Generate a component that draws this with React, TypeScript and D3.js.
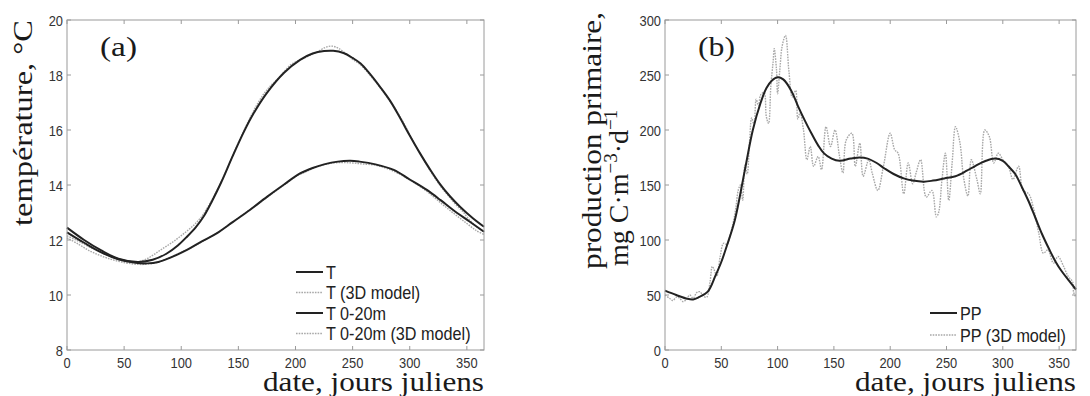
import React from 'react';
import * as d3 from 'd3';

// ---------- Panel (a): temperature ----------
const tempT: [number, number][] = [
  [0, 12.45], [15, 12.0], [30, 11.62], [45, 11.32], [62, 11.2], [75, 11.28], [87, 11.5],
  [97, 11.8], [105, 12.12], [113, 12.48], [120, 12.88], [127, 13.42], [135, 14.1], [145, 15.05],
  [155, 15.95], [163, 16.58], [175, 17.35], [190, 18.08], [204, 18.55], [215, 18.78], [225, 18.87],
  [233, 18.88], [242, 18.8], [250, 18.62], [257, 18.42], [265, 18.05], [274, 17.57], [283, 17.05],
  [291, 16.48], [300, 15.8], [309, 15.15], [318, 14.55], [326, 14.06], [335, 13.6], [344, 13.21],
  [355, 12.8], [365, 12.48],
];
const tempT3D: [number, number][] = [
  [0, 12.15], [8, 12.0], [15, 11.85], [22, 11.7], [30, 11.55], [38, 11.4], [45, 11.28], [52, 11.2],
  [58, 11.18], [64, 11.22], [70, 11.32], [76, 11.47], [82, 11.64], [88, 11.8], [94, 11.97],
  [100, 12.16], [106, 12.36], [112, 12.58], [118, 12.86], [124, 13.25], [130, 13.7], [136, 14.2],
  [142, 14.78], [148, 15.35], [154, 15.9], [160, 16.42], [166, 16.9], [172, 17.3], [178, 17.6],
  [184, 17.84], [190, 18.12], [196, 18.38], [202, 18.52], [208, 18.62], [214, 18.74], [220, 18.86],
  [226, 19.0], [232, 19.05], [238, 18.96], [244, 18.78], [250, 18.57], [256, 18.4], [262, 18.15],
  [268, 17.85], [274, 17.55], [280, 17.2], [286, 16.85], [292, 16.45], [298, 16.0], [304, 15.5],
  [310, 15.1], [316, 14.65], [322, 14.25], [328, 13.9], [334, 13.6], [340, 13.3], [346, 13.05],
  [352, 12.75], [358, 12.5], [365, 12.3],
];
const temp020: [number, number][] = [
  [0, 12.28], [15, 11.9], [30, 11.55], [45, 11.3], [60, 11.17], [70, 11.15], [80, 11.2],
  [90, 11.35], [105, 11.64], [118, 11.95], [131, 12.24], [145, 12.65], [160, 13.09], [175, 13.57],
  [190, 14.02], [204, 14.42], [215, 14.62], [225, 14.75], [237, 14.85], [248, 14.88], [256, 14.85],
  [270, 14.75], [286, 14.55], [300, 14.2], [315, 13.82], [327, 13.45], [338, 13.09], [352, 12.68],
  [365, 12.3],
];
const temp0203D: [number, number][] = [
  [0, 12.08], [10, 11.85], [20, 11.6], [30, 11.42], [40, 11.28], [50, 11.18], [60, 11.12],
  [70, 11.12], [80, 11.2], [90, 11.37], [100, 11.55], [110, 11.75], [120, 11.98], [130, 12.22],
  [140, 12.5], [150, 12.8], [160, 13.1], [170, 13.4], [180, 13.7], [190, 14.0], [200, 14.3],
  [210, 14.5], [220, 14.68], [230, 14.78], [240, 14.82], [250, 14.8], [260, 14.76], [270, 14.72],
  [280, 14.6], [290, 14.42], [300, 14.18], [310, 13.92], [320, 13.6], [330, 13.25], [340, 12.92],
  [350, 12.6], [358, 12.35], [365, 12.2],
];

// ---------- Panel (b): primary production ----------
const ppSmooth: [number, number][] = [
  [0, 54], [10, 50], [20, 46.5], [25, 46], [30, 48], [38, 53], [45, 68], [50, 80], [55, 95],
  [62, 118], [71, 164], [78, 200], [85, 225], [90, 238], [95, 245], [100, 248], [105, 246],
  [112, 236], [118, 222], [124, 209], [130, 197], [136, 186], [141, 179], [148, 174], [155, 172],
  [165, 174], [173, 175], [180, 174], [188, 170], [195, 165], [203, 160], [212, 156], [220, 154],
  [230, 153], [238, 154], [248, 156], [258, 158], [268, 163], [275, 167], [285, 172], [293, 174],
  [300, 172], [305, 167], [311, 160], [317, 148], [323, 135], [329, 120], [335, 105], [341, 92],
  [347, 80], [352, 72], [358, 64], [365, 55],
];
const pp3D: [number, number][] = [
  [0, 50], [4, 47], [7, 45], [10, 48], [13, 47], [16, 44], [19, 46], [22, 50], [25, 47], [28, 52],
  [31, 53], [34, 49], [37, 48], [40, 62], [42, 76], [44, 72], [46, 67], [49, 85], [52, 97],
  [55, 96], [58, 105], [61, 118], [63, 130], [65, 145], [67, 150], [69, 136], [71, 168], [73, 160],
  [75, 188], [77, 211], [79, 205], [81, 228], [83, 222], [85, 232], [88, 234], [90, 212], [92, 206],
  [94, 240], [96, 262], [97, 274], [99, 255], [100, 233], [102, 255], [104, 276], [107, 286],
  [110, 254], [113, 230], [116, 236], [118, 210], [120, 216], [123, 200], [126, 173], [129, 185],
  [132, 167], [136, 176], [139, 164], [143, 203], [147, 185], [151, 200], [155, 176], [158, 161],
  [161, 191], [166, 197], [169, 167], [173, 188], [176, 158], [181, 173], [184, 161], [189, 145],
  [194, 167], [200, 197], [204, 182], [207, 179], [212, 142], [216, 170], [220, 151], [223, 161],
  [227, 173], [232, 139], [237, 145], [241, 121], [243, 125], [246, 155], [249, 179], [252, 136],
  [255, 170], [258, 203], [262, 188], [265, 158], [269, 140], [272, 173], [277, 155], [280, 142],
  [284, 200], [288, 194], [292, 170], [296, 179], [300, 173], [305, 167], [309, 155], [314, 167],
  [318, 145], [323, 142], [327, 130], [332, 106], [336, 88], [340, 91], [345, 79], [349, 85],
  [354, 76], [358, 67], [362, 62], [363, 52], [365, 48],
];

const xTicks = [0, 50, 100, 150, 200, 250, 300, 350];
const yTicksA = [8, 10, 12, 14, 16, 18, 20];
const yTicksB = [0, 50, 100, 150, 200, 250, 300];
const legendA = ['T', 'T (3D model)', 'T 0-20m', 'T 0-20m (3D model)'];
const legendB = ['PP', 'PP (3D model)'];

const AXIS = '#9a9a9a';
const INK = '#222';
const GREY = '#a8a8a8';
const SANS = '"Liberation Sans", Arial, sans-serif';
const SERIF = '"Liberation Serif", "Times New Roman", serif';

type Series = { data: [number, number][]; solid: boolean };

function Panel(props: {
  left: number; right: number; top: number; bottom: number;
  yDomain: [number, number]; yTicks: number[]; series: Series[];
  letter: string; legend: string[]; legendX: number; legendY: number[];
}) {
  const { left, right, top, bottom, yDomain, yTicks, series, letter, legend, legendX, legendY } = props;
  const x = d3.scaleLinear().domain([0, 365]).range([left, right]);
  const y = d3.scaleLinear().domain(yDomain).range([bottom, top]);
  const line = d3.line<[number, number]>().x(d => x(d[0])).y(d => y(d[1])).curve(d3.curveCatmullRom.alpha(0.5));
  const tl = 4;
  return (
    <g>
      {series.filter(s => !s.solid).map((s, i) => (
        <path key={'g' + i} d={line(s.data) || ''} fill="none" stroke={GREY} strokeWidth={1.4} strokeDasharray="1.6,1.1" />
      ))}
      {series.filter(s => s.solid).map((s, i) => (
        <path key={'s' + i} d={line(s.data) || ''} fill="none" stroke={INK} strokeWidth={2} />
      ))}
      <rect x={left} y={top} width={right - left} height={bottom - top} fill="none" stroke={AXIS} strokeWidth={1} />
      {xTicks.map(t => (
        <g key={'xt' + t}>
          <line x1={x(t)} x2={x(t)} y1={bottom} y2={bottom - tl} stroke={AXIS} />
          <line x1={x(t)} x2={x(t)} y1={top} y2={top + tl} stroke={AXIS} />
          <g transform={`translate(${x(t)},${bottom + 17.5}) scale(0.86,1)`}>
            <text textAnchor="middle" fontFamily={SANS} fontSize={15} fill="#333">{t}</text>
          </g>
        </g>
      ))}
      {yTicks.map(t => (
        <g key={'yt' + t}>
          <line x1={left} x2={left + tl} y1={y(t)} y2={y(t)} stroke={AXIS} />
          <line x1={right} x2={right - tl} y1={y(t)} y2={y(t)} stroke={AXIS} />
          <g transform={`translate(${left - 4},${y(t) + 5.5}) scale(0.86,1)`}>
            <text textAnchor="end" fontFamily={SANS} fontSize={15} fill="#333">{t}</text>
          </g>
        </g>
      ))}
      <text x={left + 33} y={56} fontFamily={SERIF} fontSize={28} fill="#1a1a1a" textLength={37} lengthAdjust="spacingAndGlyphs">{letter}</text>
      {legend.map((name, i) => (
        <g key={'lg' + i}>
          <line x1={legendX} x2={legendX + 27} y1={legendY[i]} y2={legendY[i]}
            stroke={i % 2 === 0 ? INK : GREY} strokeWidth={i % 2 === 0 ? 2 : 1.4}
            strokeDasharray={i % 2 === 0 ? undefined : '1.6,1.1'} />
          <g transform={`translate(${legendX + 30},${legendY[i] + 6.5}) scale(0.9,1)`}>
            <text fontFamily={SANS} fontSize={18} fill="#222">{name}</text>
          </g>
        </g>
      ))}
      <text x={right - 221} y={391} fontFamily={SERIF} fontSize={28} fill="#1a1a1a" textLength={221} lengthAdjust="spacingAndGlyphs">date, jours juliens</text>
    </g>
  );
}

export default function App() {
  return (
    <svg width={1090} height={396} style={{ position: 'absolute', left: 0, top: 0, background: '#fff' }}>
      <rect x={0} y={0} width={1090} height={396} fill="#fff" />
      <Panel left={67} right={484} top={20} bottom={350} yDomain={[8, 20]} yTicks={yTicksA}
        series={[
          { data: tempT3D, solid: false }, { data: temp0203D, solid: false },
          { data: tempT, solid: true }, { data: temp020, solid: true },
        ]}
        letter="(a)" legend={legendA} legendX={296} legendY={[272, 292.5, 313, 333.5]} />
      <Panel left={665} right={1076} top={20} bottom={350} yDomain={[0, 300]} yTicks={yTicksB}
        series={[{ data: pp3D, solid: false }, { data: ppSmooth, solid: true }]}
        letter="(b)" legend={legendB} legendX={930} legendY={[313, 335]} />
      <text transform="translate(32,226) rotate(-90)" fontFamily={SERIF} fontSize={28} fill="#1a1a1a" textLength={206} lengthAdjust="spacingAndGlyphs">température, °C</text>
      <text transform="translate(601,269) rotate(-90)" fontFamily={SERIF} fontSize={28} fill="#1a1a1a" textLength={257} lengthAdjust="spacingAndGlyphs">production primaire,</text>
      <text transform="translate(628,266) rotate(-90)" fontFamily={SERIF} fontSize={28} fill="#1a1a1a">
        mg C·m<tspan fontSize={19} dy={-11}>−3</tspan><tspan dy={11}>·d</tspan><tspan fontSize={19} dy={-11}>−1</tspan>
      </text>
    </svg>
  );
}
